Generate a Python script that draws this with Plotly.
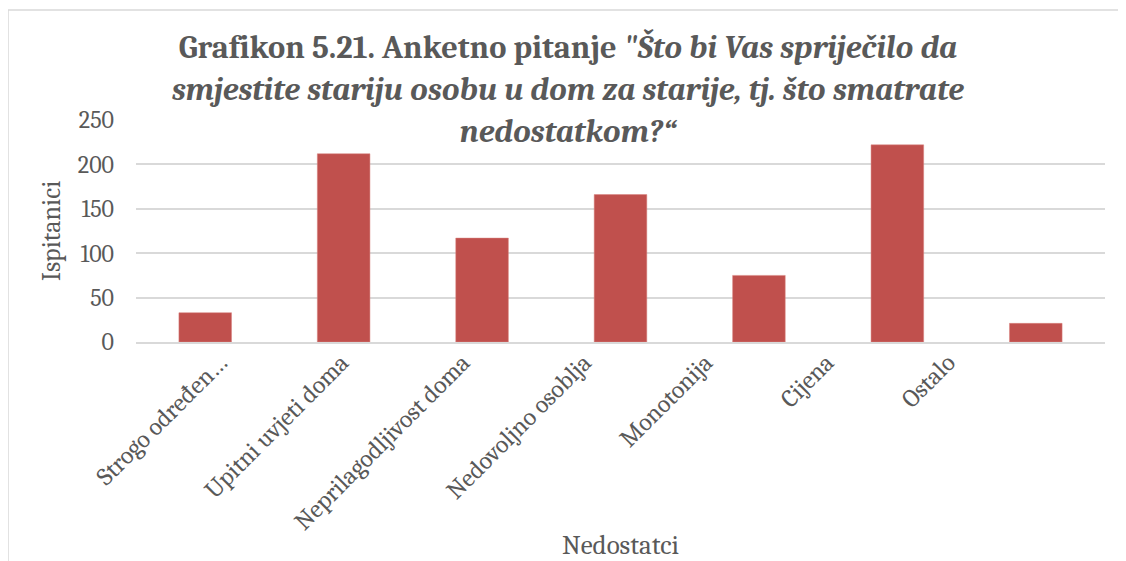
import plotly.graph_objects as go

categories = ["Strogo određen…", "Upitni uvjeti doma", "Neprilagodljivost doma",
              "Nedovoljno osoblja", "Monotonija", "Cijena", "Ostalo"]
values = [33, 212, 117, 166, 75, 222, 21]
y_ticks = [0, 50, 100, 150, 200, 250]

title_text = ('<b>Grafikon 5.21. Anketno pitanje <i>"Što bi Vas spriječilo da</i><br>'
              '<i>smjestite stariju osobu u dom za starije, tj. što smatrate</i><br>'
              '<i>nedostatkom?“</i></b>')

serif = "Cambria, 'Liberation Serif', 'DejaVu Serif', serif"
grey = "#595959"

# page body has an 8px margin, so the figure is 8px smaller each way
W, H = 1118, 553
L, R, T, B = 128, 21, 112, 219
pw, ph = W - L - R, H - T - B

fig = go.Figure()
fig.add_trace(go.Bar(x=categories, y=values,
                     marker=dict(color="#C0504D", line=dict(color="#D9837F", width=0.5))))
# invisible trace so the label axis gets drawn
fig.add_trace(go.Scatter(x=list(range(len(categories))), y=values, xaxis="x2",
                         mode="markers", marker=dict(opacity=0), hoverinfo="skip"))

# labels in the reference drift left of their bars (about 121px apart instead of 138),
# so they sit on an overlaid axis with a wider range
lbl_start, lbl_step = 220, 121.3
x2_lo = -(lbl_start - L - 8) / lbl_step
x2_hi = x2_lo + pw / lbl_step

fig.update_layout(
    width=W, height=H,
    margin=dict(l=L, r=R, t=T, b=B),
    paper_bgcolor="white", plot_bgcolor="white",
    bargap=0.62,
    showlegend=False,
    font=dict(family=serif, color=grey, size=22),
    title=dict(text=title_text, x=(568 - 8) / W, xanchor="center", xref="container",
               y=1 - 50 / H, yanchor="top", font=dict(size=32.4, color=grey, family=serif)),
    shapes=[dict(type="rect", xref="paper", yref="paper",
                 x0=(0 - L) / pw, x1=(1140 - L) / pw,
                 y0=-(B + 40) / ph, y1=(ph + T - 2) / ph,
                 line=dict(color="#D9D9D9", width=1.5), layer="below")],
    annotations=[
        dict(text="Ispitanici", textangle=-90, showarrow=False, xref="paper", yref="paper",
             x=(44 - L) / pw, y=0.5, xanchor="center", yanchor="middle",
             font=dict(size=26, color=grey)),
        dict(text="Nedostatci", showarrow=False, xref="paper", yref="paper",
             x=0.5, y=(T + ph - 537) / ph, xanchor="center", yanchor="middle",
             font=dict(size=27, color=grey)),
    ],
    xaxis2=dict(overlaying="x", anchor="y", side="bottom",
                range=[x2_lo, x2_hi],
                tickvals=list(range(len(categories))), ticktext=categories,
                tickangle=-45, ticks="", showgrid=False, zeroline=False, showline=False,
                automargin=False, tickfont=dict(size=25, color=grey)),
)
fig.update_yaxes(range=[0, 250], tickvals=y_ticks, gridcolor="#D9D9D9", gridwidth=1.5,
                 zeroline=False, showline=False, ticks="", automargin=False,
                 ticklabelstandoff=21, tickfont=dict(size=24, color=grey))
fig.update_layout(xaxis=dict(showline=True, linecolor="#D9D9D9", linewidth=1.5, ticks="",
                             showticklabels=False, automargin=False))

fig.write_html("out.html")
